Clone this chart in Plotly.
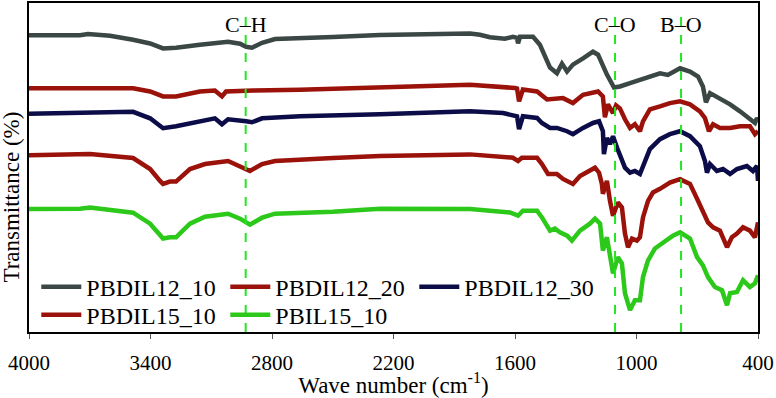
import plotly.graph_objects as go

# ---------------- data (wave number cm-1, transmittance in arbitrary offset units) -------------
wn_12_10 = [4000, 3748, 3709, 3600, 3486, 3402, 3338, 3274, 3156, 3091, 3017, 2958, 2928, 2899, 2849,
            2785, 2662, 2499, 2267, 2119, 1970, 1822, 1773, 1724, 1650, 1610, 1590, 1585, 1575, 1511,
            1477, 1427, 1393, 1368, 1343, 1314, 1264, 1215, 1190, 1146, 1111, 1082, 1032, 983, 934,
            884, 845, 785, 736, 696, 672, 657, 637, 588, 538, 489, 440, 415, 405, 400]
t_12_10 = [298.5, 298.5, 299.7, 298, 294, 290.3, 285.3, 286, 289, 290.3, 292, 290, 287, 286, 291,
           294.7, 295.3, 296.7, 298.7, 299, 300.3, 300.3, 299, 296.5, 295, 297, 296, 290.3, 297, 297,
           289, 266, 260.3, 270, 262, 269, 275.3, 282, 279, 259, 246, 247, 250.3, 253.7, 257,
           260.3, 258.7, 265.3, 262, 257, 247, 231, 240.3, 235.3, 229, 222, 214, 210.3, 215.3, 213]

wn_12_20 = [4000, 3486, 3402, 3338, 3274, 3156, 3082, 3047, 3027, 2928, 2894, 2662, 2267, 1970, 1822,
            1600, 1590, 1580, 1561, 1491, 1442, 1363, 1314, 1264, 1190, 1166, 1156, 1141, 1116, 1101,
            1082, 1057, 1032, 1008, 983, 968, 934, 884, 835, 785, 736, 687, 662, 642, 622, 588, 538,
            489, 440, 415, 400]
t_12_20 = [245.3, 245.3, 242, 237, 237, 242, 243, 237, 242, 242, 243, 243.7, 246, 248.5, 248.7,
           245.5, 245, 232, 244, 242, 234, 235.3, 230.3, 238.7, 242, 237, 216, 229, 220.3, 228,
           225, 214, 205.3, 209, 202, 212, 224, 227, 230.3, 232, 229, 222, 215.3, 202, 209, 205.3, 205.3,
           207, 207, 199, 202]

wn_12_30 = [4000, 3486, 3402, 3338, 3274, 3156, 3082, 3047, 3017, 2928, 2899, 2849, 2662, 2267, 1970,
            1822, 1659, 1590, 1580, 1561, 1491, 1467, 1427, 1393, 1343, 1314, 1264, 1215, 1185, 1166,
            1161, 1146, 1131, 1116, 1096, 1082, 1057, 1032, 1008, 983, 958, 934, 884, 835, 785, 736,
            687, 662, 652, 637, 603, 573, 538, 504, 455, 425, 405, 400]
t_12_30 = [219.7, 221.5, 215, 205, 207, 212, 215, 209, 214, 212, 211, 215, 217, 219, 221,
           222, 220.3, 217, 204, 217, 215.3, 210.3, 205.3, 205.3, 202, 199, 205.3, 210.3, 212, 202,
           179, 195.3, 189, 197, 185.3, 179, 165.3, 160.3, 162, 159, 172, 184, 194, 199, 202, 197,
           187, 172, 160.3, 169, 162, 164, 159, 164, 167, 162, 167, 152]

wn_15_10 = [4000, 3748, 3699, 3486, 3402, 3353, 3338, 3304, 3274, 3205, 3131, 3017, 2958, 2909, 2849,
            2785, 2499, 2267, 1822, 1610, 1585, 1566, 1491, 1467, 1437, 1393, 1363, 1329, 1314, 1279,
            1230, 1205, 1185, 1171, 1166, 1146, 1131, 1116, 1092, 1072, 1057, 1042, 1022, 998, 983,
            968, 943, 919, 884, 835, 785, 736, 701, 672, 647, 622, 588, 553, 529, 504, 474, 440,
            415, 400]
t_15_10 = [177.7, 179, 179, 175, 164, 152, 149, 151.3, 151.3, 164, 169, 172, 167, 162, 169,
           172, 175, 177, 178.7, 175.3, 172, 175.3, 175.3, 169, 159, 159, 154, 150.3, 149, 157,
           162, 165.3, 160.3, 149, 139, 152, 132, 117, 130.3, 125.3, 99, 85.3, 94, 92, 95.3,
           115.3, 132, 140.3, 144, 150.3, 153.7, 149, 134, 122, 110.3, 105.3, 102, 85.3, 95.3, 99, 105.3, 102,
           95.3, 110.3]

wn_bil = [4000, 3748, 3699, 3486, 3402, 3353, 3338, 3304, 3274, 3205, 3131, 3017, 2958, 2909, 2849,
          2785, 2499, 2267, 1822, 1625, 1585, 1561, 1491, 1467, 1427, 1403, 1378, 1343, 1319, 1279,
          1230, 1205, 1180, 1166, 1146, 1131, 1116, 1092, 1072, 1057, 1032, 1008, 983, 968, 943,
          909, 869, 820, 785, 736, 701, 672, 647, 613, 578, 553, 538, 504, 474, 440, 415, 400]
t_bil = [123.7, 124, 125.3, 120, 109, 97, 94, 95.3, 95.3, 109, 116, 119, 114, 108, 115,
         119, 121, 124, 123.7, 120.3, 117, 122, 122, 115.3, 102, 104, 100.3, 97, 92, 102,
         109, 114, 109, 82, 95.3, 77, 59, 75.3, 69, 39, 22, 32, 32, 55.3, 72,
         84, 90.3, 97, 100.3, 94, 75.3, 67, 55.3, 45.3, 42, 27, 39, 40.3, 52, 45.3, 49, 57]

series_names = ["PBDIL12_10", "PBDIL12_20", "PBDIL12_30", "PBDIL15_10", "PBIL15_10"]
series_colors = ["#3a4744", "#9a1209", "#0c0c48", "#9a1209", "#2cc81a"]
series_legend = ["legend", "legend", "legend", "legend2", "legend2"]

band_pos = [2930, 1106, 780]
band_labels = ["C–H", "C–O", "B–O"]

x_ticks = [4000, 3400, 2800, 2200, 1600, 1000, 400]

# ---------------- figure -------------
FONT = "Times New Roman, Liberation Serif, Times, serif"
fig = go.Figure()
all_x = [wn_12_10, wn_12_20, wn_12_30, wn_15_10, wn_bil]
all_y = [t_12_10, t_12_20, t_12_30, t_15_10, t_bil]
for name, xs, ys, col, lg in zip(series_names, all_x, all_y, series_colors, series_legend):
    fig.add_trace(go.Scatter(x=xs, y=ys, mode="lines", name=name, legend=lg,
                             line=dict(color=col, width=4.5)))

for pos, lab in zip(band_pos, band_labels):
    fig.add_shape(type="line", xref="x", yref="paper", x0=pos, x1=pos, y0=0, y1=0.985,
                  line=dict(color="#22e622", width=2, dash="dash"), layer="above")
    fig.add_annotation(x=pos, y=0.935, xref="x", yref="paper", text=lab, showarrow=False,
                       font=dict(family=FONT, size=22, color="black"), xanchor="center", yanchor="middle")

fig.add_annotation(x=-0.024, y=0.41, xref="paper", yref="paper", text="Transmittance (%)",
                   textangle=-90, showarrow=False, font=dict(family=FONT, size=23, color="black"),
                   xanchor="center", yanchor="middle")

legend_common = dict(orientation="h", xanchor="left", yanchor="middle",
                     font=dict(family=FONT, size=24, color="black"), entrywidth=134,
                     entrywidthmode="pixels", bgcolor="rgba(0,0,0,0)", itemwidth=40)

fig.update_layout(
    width=776, height=398,
    margin=dict(l=29, r=18, t=1, b=66),
    paper_bgcolor="white", plot_bgcolor="white",
    font=dict(family=FONT, color="black"),
    legend=dict(x=0.01, y=(332 - 287) / 331, **legend_common),
    legend2=dict(x=0.01, y=(332 - 315) / 331, **legend_common),
    showlegend=True,
)
fig.update_xaxes(range=[4000, 400], tickvals=x_ticks, ticktext=[str(v) for v in x_ticks],
                 ticks="outside", ticklen=5, tickcolor="#555", showline=True, mirror=True,
                 linecolor="black", linewidth=1.5, showgrid=False, zeroline=False,
                 tickfont=dict(family=FONT, size=21), ticklabelstandoff=6,
                 title=dict(text="Wave number (cm<sup>-1</sup>)", font=dict(family=FONT, size=23), standoff=3))
fig.update_yaxes(range=[0, 331], showticklabels=False, ticks="", showline=True, mirror=True,
                 linecolor="black", linewidth=1.5, showgrid=False, zeroline=False)

fig.write_html("out.html")
